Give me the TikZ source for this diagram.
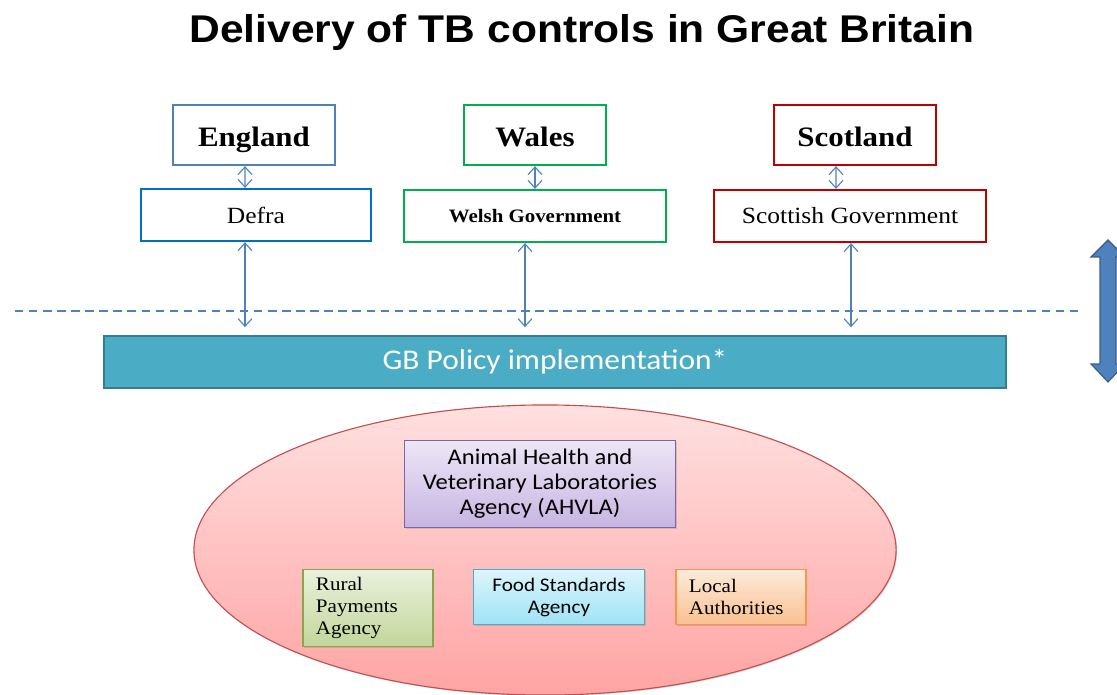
\documentclass[tikz,border=0pt]{standalone}
\usepackage{fontspec}
\setmainfont{Liberation Serif}[FakeStretch=1.1]
\newfontfamily\headfont{Liberation Sans}[FakeStretch=1.1]
\newfontfamily\bodyfont{Carlito}[FakeStretch=1.1]
\usetikzlibrary{shapes.geometric,arrows.meta,shadows}

\definecolor{engblue}{RGB}{79, 129, 189}
\definecolor{defrablue}{RGB}{0, 112, 192}
\definecolor{walesgreen}{RGB}{0, 176, 80}
\definecolor{scotred}{RGB}{192, 0, 0}
\definecolor{linkblue}{RGB}{79, 129, 189}
\definecolor{bigblue}{RGB}{79, 129, 189}
\definecolor{bigedge}{RGB}{56, 93, 138}
\definecolor{gbteal}{RGB}{75, 172, 198}
\definecolor{gbedge}{RGB}{53, 125, 145}
\definecolor{pinktop}{RGB}{255, 224, 224}
\definecolor{pinkbot}{RGB}{255, 164, 164}
\definecolor{pinkedge}{RGB}{192, 80, 77}
\definecolor{lilactop}{RGB}{237, 230, 246}
\definecolor{lilacbot}{RGB}{199, 181, 226}
\definecolor{lilacedge}{RGB}{128, 100, 162}
\definecolor{olivetop}{RGB}{234, 241, 221}
\definecolor{olivebot}{RGB}{194, 214, 154}
\definecolor{oliveedge}{RGB}{134, 168, 74}
\definecolor{skytop}{RGB}{221, 245, 252}
\definecolor{skybot}{RGB}{158, 227, 245}
\definecolor{skyedge}{RGB}{75, 172, 198}
\definecolor{peachtop}{RGB}{253, 234, 218}
\definecolor{peachbot}{RGB}{250, 192, 144}
\definecolor{peachedge}{RGB}{247, 150, 70}

\begin{document}
\begin{tikzpicture}[
    x=0.025cm, y=-0.025cm,
    nation/.style={draw, line width=1.6pt, fill=white, minimum height=1.5cm,
        text height=18pt, text depth=2pt,
        font=\fontsize{20}{24}\selectfont\bfseries},
    govt/.style={draw, line width=1.6pt, fill=white, minimum height=1.3cm,
        font=\fontsize{16.5}{19}\selectfont},
    link/.style={<->, >={Straight Barb[length=5.5pt,width=10pt]}, draw=linkblue, line width=0.8pt},
    agency/.style={draw, line width=0.8pt, inner sep=0pt,
        drop shadow={shadow xshift=0.8pt, shadow yshift=-0.8pt, opacity=0.3}},
    seriftext/.style={align=left, inner xsep=0.325cm,
        font=\fontsize{13.6}{15.6}\selectfont}
]
\useasboundingbox (0,0) rectangle (1117,695);

\node[font=\headfont\fontsize{27.5}{32}\selectfont\bfseries] (title) at (582,33)
    {Delivery of TB controls in Great Britain};

% the three nations and their governments
\node[nation, draw=engblue, minimum width=4.05cm] (eng) at (254,135) {England};
\node[nation, draw=walesgreen, minimum width=3.55cm] (wal) at (535,135) {Wales};
\node[nation, draw=scotred, minimum width=4.05cm] (sco) at (855,135) {Scotland};

\node[govt, draw=defrablue, minimum width=5.75cm] (defra) at (256,215) {Defra};
\node[govt, draw=walesgreen, minimum width=6.55cm,
    font=\fontsize{13.5}{16}\selectfont\bfseries] (welsh) at (535,216) {Welsh Government};
\node[govt, draw=scotred, minimum width=6.8cm] (scot) at (850,216) {Scottish Government};

% dividing line and the up/down arrow
\draw[linkblue, line width=0.8pt, dash pattern=on 6pt off 4pt] (15,311) -- (1081,311);
\draw[bigedge, fill=bigblue, line width=0.8pt]
    (1108,240) -- (1125,257) -- (1116,257) -- (1116,364) -- (1125,364) -- (1108,382)
    -- (1091,364) -- (1100,364) -- (1100,257) -- (1091,257) -- cycle;

\node[draw=gbedge, fill=gbteal, line width=1.2pt, minimum width=22.55cm, minimum height=1.3cm,
    text=white, font=\bodyfont\fontsize{20.3}{24}\selectfont] (gb) at (555,362) {GB Policy implementation*};

\draw[link] ([xshift=-0.225cm]eng.south) -- ([xshift=-0.275cm]defra.north);
\draw[link] (wal.south) -- (welsh.north);
\draw[link] ([xshift=-0.475cm]sco.south) -- ([xshift=-0.35cm]scot.north);

\draw[link] ([xshift=-0.275cm]defra.south) -- ([xshift=-0.275cm,yshift=0.2cm]defra.south |- gb.north);
\draw[link] ([xshift=-0.25cm]welsh.south) -- ([xshift=-0.25cm,yshift=0.2cm]welsh.south |- gb.north);
\draw[link] ([xshift=0.025cm]scot.south) -- ([xshift=0.025cm,yshift=0.2cm]scot.south |- gb.north);

% delivery bodies
\node[ellipse, agency, draw=pinkedge, top color=pinktop, bottom color=pinkbot,
    minimum width=17.55cm, minimum height=7.25cm] (bodies) at (545,550) {};

\node[agency, draw=lilacedge, top color=lilactop, bottom color=lilacbot,
    minimum width=6.775cm, minimum height=2.175cm, align=center,
    font=\bodyfont\fontsize{15.9}{17.8}\selectfont] (ahvla) at (540,484)
    {Animal Health and\\Veterinary Laboratories\\Agency (AHVLA)};

\node[agency, seriftext, draw=oliveedge, top color=olivetop, bottom color=olivebot,
    text width=2.6cm, minimum height=1.925cm] (rpa) at (368,608)
    {Rural\\Payments\\Agency};
\node[agency, draw=skyedge, top color=skytop, bottom color=skybot,
    minimum width=4.275cm, minimum height=1.375cm, align=center,
    font=\bodyfont\fontsize{13.7}{15.6}\selectfont] (fsa) at (559,597)
    {Food Standards\\Agency};
\node[agency, seriftext, draw=peachedge, top color=peachtop, bottom color=peachbot,
    text width=2.6cm, minimum height=1.375cm] (local) at (741,597)
    {Local\\Authorities};
\end{tikzpicture}
\end{document}
